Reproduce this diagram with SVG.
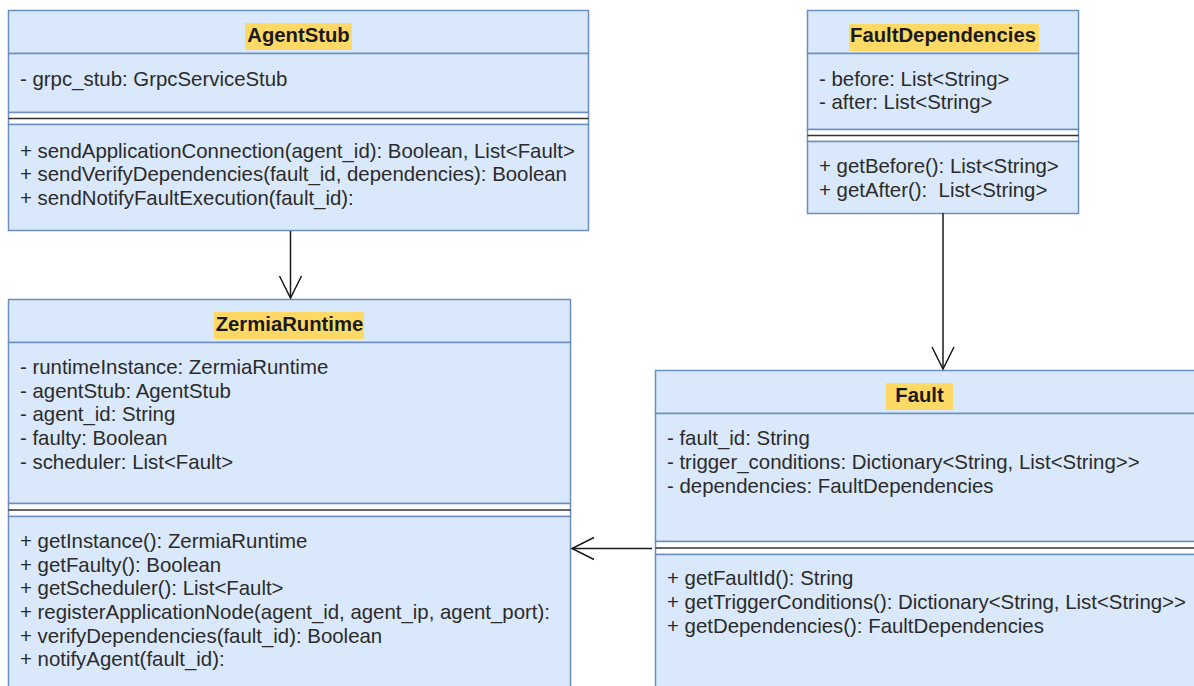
<svg xmlns="http://www.w3.org/2000/svg" width="1194" height="686" viewBox="0 0 1194 686">
  <style>
    .box { fill: #dae8fc; stroke: #6c8ebf; stroke-width: 1.5; }
    .gap { fill: #ffffff; stroke: #6c8ebf; stroke-width: 1.5; }
    .sep { stroke: #333333; stroke-width: 1.5; }
    .hl { fill: #ffd966; }
    .title { font-family: "Liberation Sans", Arial, sans-serif; font-size: 20.3px; font-weight: bold; fill: #1a1a1a; text-anchor: middle; }
    .txt { font-family: "Liberation Sans", Arial, sans-serif; font-size: 20.4px; fill: #2b2b2b; }
    .conn { fill: none; stroke: #1a1a1a; stroke-width: 1.5; }
  </style>
  <defs>
    <marker id="open" markerUnits="userSpaceOnUse" viewBox="-25 -14 28 28" markerWidth="28" markerHeight="28" refX="0" refY="0" orient="auto">
      <path d="M-22,-11 L0,0 L-22,11" fill="none" stroke="#1a1a1a" stroke-width="1.5"/>
    </marker>
  </defs>
  <rect width="1194" height="686" fill="#ffffff"/>

  <g id="AgentStub">
    <rect class="box" x="8.5" y="10.5" width="580" height="43"/>
    <rect class="box" x="8.5" y="53.5" width="580" height="59"/>
    <rect class="gap" x="8.5" y="112.5" width="580" height="12"/>
    <line class="sep" x1="8.5" y1="118.5" x2="588.5" y2="118.5"/>
    <rect class="box" x="8.5" y="124.5" width="580" height="106"/>
    <rect class="hl" x="245" y="23" width="107" height="27"/>
    <text class="title" x="298.5" y="42">AgentStub</text>
    <text class="txt" x="20" y="86">- grpc_stub: GrpcServiceStub</text>
    <text class="txt" x="20" y="158">+ sendApplicationConnection(agent_id): Boolean, List&lt;Fault&gt;</text>
    <text class="txt" x="20" y="181">+ sendVerifyDependencies(fault_id, dependencies): Boolean</text>
    <text class="txt" x="20" y="205">+ sendNotifyFaultExecution(fault_id):</text>
  </g>

  <g id="FaultDependencies">
    <rect class="box" x="807.5" y="10.5" width="271" height="43"/>
    <rect class="box" x="807.5" y="53.5" width="271" height="76"/>
    <rect class="gap" x="807.5" y="129.5" width="271" height="12"/>
    <line class="sep" x1="807.5" y1="135.5" x2="1078.5" y2="135.5"/>
    <rect class="box" x="807.5" y="141.5" width="271" height="72"/>
    <rect class="hl" x="849" y="24" width="190" height="27"/>
    <text class="title" x="943" y="42">FaultDependencies</text>
    <text class="txt" x="819" y="86">- before: List&lt;String&gt;</text>
    <text class="txt" x="819" y="109">- after: List&lt;String&gt;</text>
    <text class="txt" x="819" y="173">+ getBefore(): List&lt;String&gt;</text>
    <text class="txt" x="819" y="197">+ getAfter():&#160; List&lt;String&gt;</text>
  </g>

  <g id="ZermiaRuntime">
    <rect class="box" x="8.5" y="299.5" width="562" height="43"/>
    <rect class="box" x="8.5" y="342.5" width="562" height="161"/>
    <rect class="gap" x="8.5" y="503.5" width="562" height="13"/>
    <line class="sep" x1="8.5" y1="510" x2="570.5" y2="510"/>
    <rect class="box" x="8.5" y="516.5" width="562" height="200"/>
    <rect class="hl" x="214" y="312" width="150" height="27"/>
    <text class="title" x="289.5" y="331">ZermiaRuntime</text>
    <text class="txt" x="20" y="374">- runtimeInstance: ZermiaRuntime</text>
    <text class="txt" x="20" y="398">- agentStub: AgentStub</text>
    <text class="txt" x="20" y="421">- agent_id: String</text>
    <text class="txt" x="20" y="445">- faulty: Boolean</text>
    <text class="txt" x="20" y="469">- scheduler: List&lt;Fault&gt;</text>
    <text class="txt" x="20" y="548">+ getInstance(): ZermiaRuntime</text>
    <text class="txt" x="20" y="572">+ getFaulty(): Boolean</text>
    <text class="txt" x="20" y="595">+ getScheduler(): List&lt;Fault&gt;</text>
    <text class="txt" x="20" y="619">+ registerApplicationNode(agent_id, agent_ip, agent_port):</text>
    <text class="txt" x="20" y="643">+ verifyDependencies(fault_id): Boolean</text>
    <text class="txt" x="20" y="666">+ notifyAgent(fault_id):</text>
  </g>

  <g id="Fault">
    <rect class="box" x="655.5" y="370.5" width="560" height="43"/>
    <rect class="box" x="655.5" y="413.5" width="560" height="128"/>
    <rect class="gap" x="655.5" y="541.5" width="560" height="13"/>
    <line class="sep" x1="655.5" y1="548" x2="1215" y2="548"/>
    <rect class="box" x="655.5" y="554.5" width="560" height="200"/>
    <rect class="hl" x="886" y="383" width="67" height="27"/>
    <text class="title" x="919.5" y="402">Fault</text>
    <text class="txt" x="667" y="445">- fault_id: String</text>
    <text class="txt" x="667" y="469">- trigger_conditions: Dictionary&lt;String, List&lt;String&gt;&gt;</text>
    <text class="txt" x="667" y="493">- dependencies: FaultDependencies</text>
    <text class="txt" x="667" y="585">+ getFaultId(): String</text>
    <text class="txt" x="667" y="609">+ getTriggerConditions(): Dictionary&lt;String, List&lt;String&gt;&gt;</text>
    <text class="txt" x="667" y="633">+ getDependencies(): FaultDependencies</text>
  </g>

  <g id="connectors">
    <path class="conn" d="M290.5,231 V298" marker-end="url(#open)"/>
    <path class="conn" d="M943,213 V369" marker-end="url(#open)"/>
    <path class="conn" d="M652,548.5 H572" marker-end="url(#open)"/>
  </g>
</svg>
